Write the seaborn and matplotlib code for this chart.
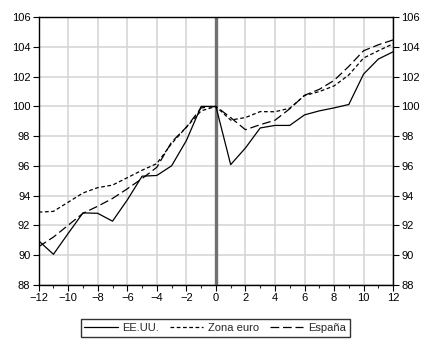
import matplotlib
matplotlib.use("Agg")
import matplotlib.pyplot as plt
import seaborn as sns
import pandas as pd
import numpy as np
from matplotlib.lines import Line2D

months = list(range(-12, 13))
eeuu = [90.95, 90.04, 91.45, 92.83, 92.8, 92.27, 93.7, 95.3, 95.35, 96.0, 97.7, 100.0, 100.0,
        96.08, 97.2, 98.55, 98.72, 98.72, 99.43, 99.7, 99.9, 100.13, 102.18, 103.19, 103.68]
zona_euro = [92.88, 92.93, 93.55, 94.17, 94.53, 94.7, 95.2, 95.7, 96.15, 97.5, 98.6, 99.7, 100.0,
             99.08, 99.25, 99.65, 99.64, 99.88, 100.73, 101.0, 101.38, 102.12, 103.26, 103.75, 104.22]
espana = [90.55, 91.2, 92.0, 92.8, 93.28, 93.8, 94.45, 95.14, 95.9, 97.6, 98.6, 99.9, 100.0,
          99.25, 98.43, 98.77, 99.07, 99.84, 100.75, 101.15, 101.75, 102.7, 103.75, 104.15, 104.48]
series_names = ["EE.UU.", "Zona euro", "España"]

df = pd.concat([
    pd.DataFrame({"mes": months, "valor": vals, "serie": name})
    for name, vals in zip(series_names, [eeuu, zona_euro, espana])
])

sns.set_style("white")
plt.rcParams["font.family"] = ["Liberation Sans", "DejaVu Sans"]

fig = plt.figure(figsize=(4.25, 3.4), dpi=100)
ax = fig.add_axes([0.091, 0.163, 0.834, 0.786])

for y in range(88, 107, 2):
    ax.axhline(y, color="#d3d3d3", lw=1.1, zorder=0)
for x in range(-12, 13, 2):
    ax.axvline(x, color="#d3d3d3", lw=1.1, zorder=0)
ax.axvline(0, color="#707070", lw=2.4, zorder=1)

sns.lineplot(data=df, x="mes", y="valor", hue="serie", style="serie",
             hue_order=series_names, style_order=series_names,
             palette=["black", "black", "black"],
             dashes=["", (3, 2), (7, 3)], lw=0.9, ax=ax, legend=False, zorder=3)

ax.set_xlim(-12, 12)
ax.set_ylim(88, 106)
ax.set_xticks(range(-12, 13, 2))
ax.set_xticks(range(-11, 12, 2), minor=True)
ax.set_yticks(range(88, 107, 2))
ax.set_xlabel("")
ax.set_ylabel("")
for s in ax.spines.values():
    s.set_color("black")
    s.set_linewidth(1.0)
ax.tick_params(axis="both", which="major", direction="out", length=4, width=0.8,
               labelsize=8, colors="black", pad=2)
ax.tick_params(axis="x", which="minor", direction="out", length=2.5, width=0.8,
               bottom=True)
ax.tick_params(axis="y", left=True, right=True, labelleft=True, labelright=True)
ax.tick_params(axis="x", bottom=True, top=False)
ax.grid(False)

handles = [Line2D([], [], color="black", lw=0.9, linestyle="-"),
           Line2D([], [], color="black", lw=0.9, linestyle=(0, (3, 2))),
           Line2D([], [], color="black", lw=0.9, linestyle=(0, (7, 3)))]
leg = fig.legend(handles, series_names, loc="lower center", bbox_to_anchor=(0.506, -0.008),
                 ncol=3, fontsize=8, frameon=True, fancybox=False, edgecolor="black",
                 handlelength=3.0, handletextpad=0.4, columnspacing=1.0, borderpad=0.35)
leg.get_frame().set_linewidth(1.0)

fig.savefig("out.png", dpi=100)
